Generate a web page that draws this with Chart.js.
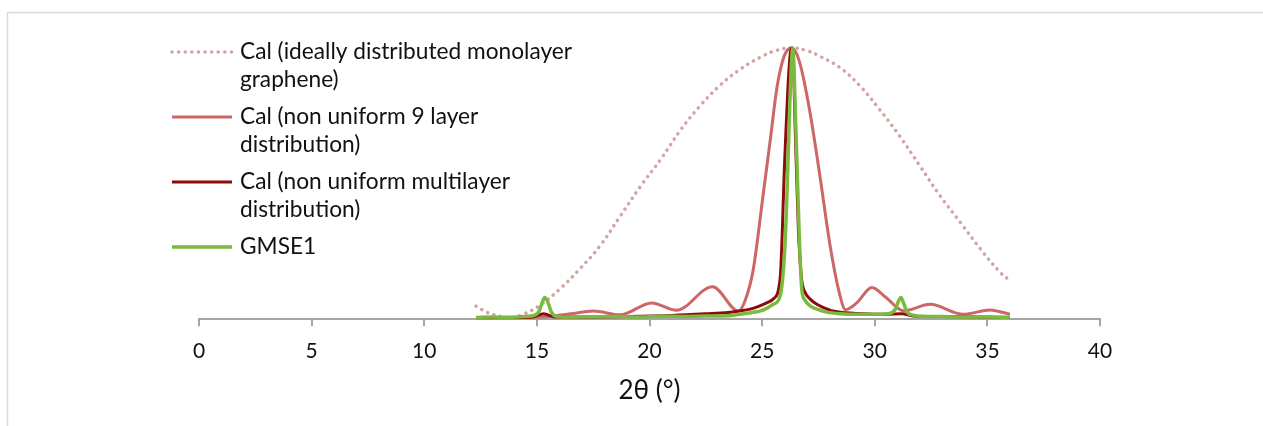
<!DOCTYPE html>
<html>
<head>
<meta charset="utf-8">
<script src="https://cdn.jsdelivr.net/npm/chart.js@4.4.0/dist/chart.umd.min.js"></script>
<style>
  html, body { margin: 0; padding: 0; background: #fff; }
  canvas { display: block; }
</style>
</head>
<body>
<canvas id="xrd" width="1263" height="426"></canvas>
<script>
const xTicks = [0, 5, 10, 15, 20, 25, 30, 35, 40];

const idealX = [12.3, 12.8, 13.4, 13.8, 14.3, 15.1, 16.0, 16.9, 17.8, 18.7, 19.6, 20.5, 21.4, 22.25, 23.1, 24.0, 24.9, 25.6, 26.3, 27.0, 27.6, 28.5, 29.4, 30.2, 31.1, 32.0, 32.9, 33.8, 34.7, 35.6, 36.0];
const idealY = [0.048, 0.025, 0.01, 0.006, 0.015, 0.049, 0.11, 0.185, 0.27, 0.38, 0.49, 0.59, 0.70, 0.787, 0.86, 0.92, 0.965, 0.99, 1.0, 0.99, 0.968, 0.925, 0.855, 0.775, 0.676, 0.566, 0.455, 0.357, 0.258, 0.17, 0.143];

const nineX = [12.3, 13.5, 14.5, 15.5, 16.5, 17.5, 18.7, 20.1, 21.2, 22.8, 23.95, 24.25, 24.6, 25.04, 25.36, 25.65, 25.9, 26.1, 26.32, 26.55, 26.75, 27.13, 27.58, 28.02, 28.46, 28.7, 29.2, 29.87, 30.5, 31.27, 32.46, 33.93, 35.12, 36.0];
const nineY = [0.005, 0.004, 0.006, 0.01, 0.02, 0.03, 0.016, 0.06, 0.033, 0.12, 0.03, 0.07, 0.18, 0.455, 0.66, 0.85, 0.95, 0.99, 1.0, 0.975, 0.92, 0.76, 0.52, 0.27, 0.086, 0.035, 0.06, 0.117, 0.08, 0.031, 0.055, 0.018, 0.034, 0.018];

const multiX = [12.3, 13.5, 14.8, 15.3, 15.8, 17.0, 19.0, 21.0, 22.5, 23.5, 24.0, 24.47, 24.9, 25.2, 25.5, 25.8, 26.0, 26.17, 26.27, 26.35, 26.47, 26.61, 26.75, 26.9, 27.13, 27.43, 27.7, 28.15, 28.46, 29.5, 30.5, 31.2, 31.7, 33.0, 34.5, 36.0];
const multiY = [0.004, 0.005, 0.008, 0.02, 0.008, 0.008, 0.01, 0.014, 0.02, 0.025, 0.03, 0.037, 0.049, 0.06, 0.075, 0.15, 0.58, 0.89, 0.99, 1.0, 0.70, 0.33, 0.15, 0.1, 0.074, 0.055, 0.044, 0.03, 0.026, 0.02, 0.018, 0.02, 0.012, 0.01, 0.008, 0.006];

const gmseX = [12.3, 13.0, 13.8, 14.5, 14.9, 15.1, 15.25, 15.35, 15.5, 15.65, 15.9, 16.5, 17.5, 18.5, 19.5, 20.5, 21.5, 22.5, 23.5, 24.0, 24.5, 24.9, 25.2, 25.5, 25.8, 26.0, 26.1, 26.24, 26.36, 26.5, 26.64, 26.76, 26.9, 27.13, 27.5, 27.87, 28.5, 29.2, 30.0, 30.6, 30.9, 31.05, 31.16, 31.3, 31.45, 31.7, 32.2, 33.0, 34.0, 35.0, 36.0];
const gmseY = [0.006, 0.008, 0.007, 0.01, 0.015, 0.03, 0.065, 0.08, 0.06, 0.025, 0.01, 0.008, 0.009, 0.01, 0.008, 0.011, 0.01, 0.012, 0.013, 0.018, 0.024, 0.03, 0.04, 0.055, 0.086, 0.25, 0.455, 0.82, 1.0, 0.70, 0.33, 0.11, 0.07, 0.049, 0.035, 0.026, 0.02, 0.018, 0.018, 0.02, 0.035, 0.065, 0.08, 0.055, 0.025, 0.015, 0.01, 0.01, 0.008, 0.008, 0.007];

const legendLines = [
    ["Cal (ideally distributed monolayer", "graphene)"],
    ["Cal (non uniform 9 layer", "distribution)"],
    ["Cal (non uniform multilayer", "distribution)"],
    ["GMSE1"]
];

const FONT = "Lato, sans-serif";

function pts(xs, ys) {
    return xs.map((x, i) => ({ x: x, y: ys[i] }));
}

// border + custom two-line legend
const decor = {
    id: "decor",
    beforeDraw(chart) {
        const ctx = chart.ctx;
        ctx.save();
        ctx.strokeStyle = "#d9d9d9";
        ctx.lineWidth = 1.5;
        ctx.strokeRect(7.5, 12.5, 1300, 500);
        ctx.restore();
    },
    afterDraw(chart) {
        const ctx = chart.ctx;
        ctx.save();
        ctx.font = "22.7px " + FONT;
        ctx.textBaseline = "middle";
        chart.data.datasets.forEach((ds, i) => {
            const y = 52 + i * 65;
            ctx.beginPath();
            ctx.strokeStyle = ds.borderColor;
            ctx.lineWidth = ds.borderWidth;
            ctx.lineCap = ds.borderCapStyle || "butt";
            ctx.setLineDash(ds.borderDash || []);
            ctx.moveTo(172, y);
            ctx.lineTo(232, y);
            ctx.stroke();
            ctx.setLineDash([]);
            ctx.fillStyle = "#111";
            legendLines[i].forEach((t, j) => ctx.fillText(t, 240, y + j * 28));
        });
        ctx.restore();
    }
};

new Chart(document.getElementById("xrd"), {
    type: "line",
    data: {
        datasets: [
            {
                label: legendLines[0].join(" "),
                data: pts(idealX, idealY),
                borderColor: "#d4a3a3",
                borderWidth: 3.5,
                borderDash: [0.1, 6.5],
                borderCapStyle: "round",
                cubicInterpolationMode: "default",
                tension: 0.4,
                order: 3
            },
            {
                label: legendLines[1].join(" "),
                data: pts(nineX, nineY),
                borderColor: "#cd6666",
                borderWidth: 3,
                order: 2
            },
            {
                label: legendLines[2].join(" "),
                data: pts(multiX, multiY),
                borderColor: "#8c0c0c",
                borderWidth: 3,
                order: 1
            },
            {
                label: legendLines[3].join(" "),
                data: pts(gmseX, gmseY),
                borderColor: "#7aba3e",
                borderWidth: 3.5,
                order: 0
            }
        ]
    },
    options: {
        responsive: false,
        animation: false,
        devicePixelRatio: 1,
        layout: { padding: { left: 199, right: 163, top: 29, bottom: 19.4 } },
        elements: {
            point: { radius: 0 },
            line: { cubicInterpolationMode: "monotone", fill: false }
        },
        plugins: {
            legend: { display: false },
            tooltip: { enabled: false }
        },
        scales: {
            x: {
                type: "linear",
                min: 0,
                max: 40,
                afterBuildTicks: axis => { axis.ticks = xTicks.map(v => ({ value: v })); },
                border: { color: "#a6a6a6", width: 2 },
                grid: { drawOnChartArea: false, drawTicks: true, tickLength: 7, color: "#a6a6a6", lineWidth: 2 },
                ticks: { padding: 12, color: "#111", font: { family: FONT, size: 21 }, maxRotation: 0 },
                title: {
                    display: true,
                    text: "2θ (°)",
                    color: "#111",
                    font: { family: FONT, size: 26 },
                    padding: { top: 0, bottom: 0 }
                }
            },
            y: {
                display: false,
                min: 0,
                max: 1.07
            }
        }
    },
    plugins: [decor]
});
</script>
</body>
</html>
